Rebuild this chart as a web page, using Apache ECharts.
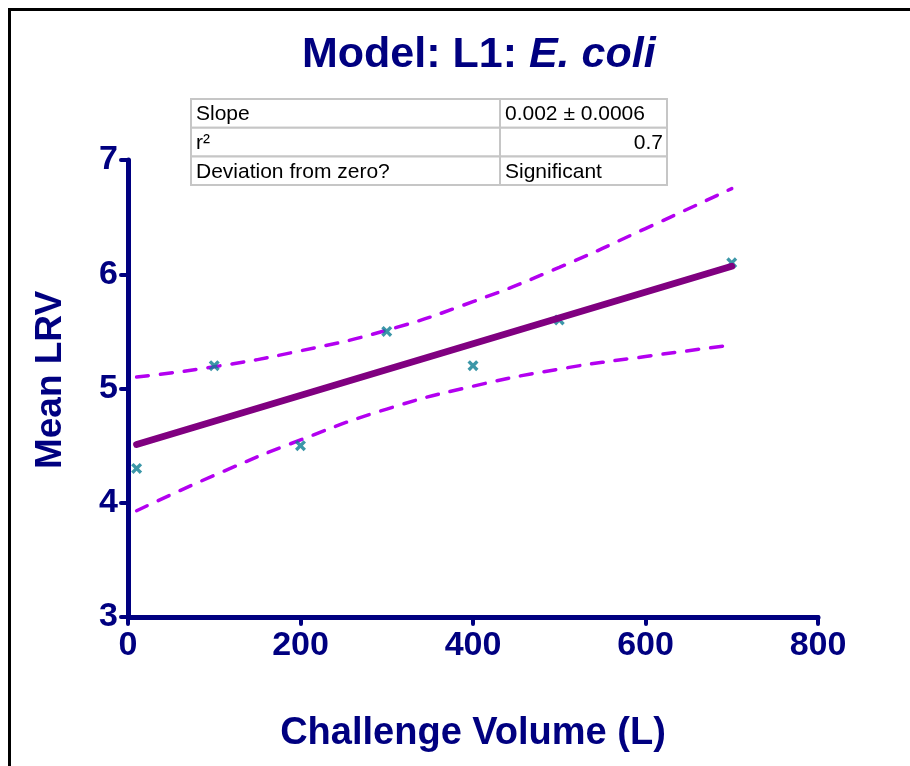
<!DOCTYPE html>
<html>
<head>
<meta charset="utf-8">
<script src="https://cdn.jsdelivr.net/npm/echarts@6/dist/echarts.min.js"></script>
<style>
  html, body { margin: 0; padding: 0; background: #fff; }
  #chart { width: 910px; height: 766px; }
</style>
</head>
<body>
<div id="chart"></div>
<script>
// Observations: challenge volume (L) vs mean log reduction value
const volume = [10, 100, 200, 300, 400, 500, 700];
const meanLRV = [4.3, 5.2, 4.5, 5.5, 5.2, 5.6, 6.1];

// Linear fit, endpoints
const fitX = [10, 700];
const fitY = [4.51, 6.07];

// 95% confidence band of the fit
const bandX = [10, 100, 200, 300, 400, 500, 600, 700];
const bandUpper = [5.10, 5.19, 5.33, 5.51, 5.76, 6.06, 6.40, 6.75];
const bandLower = [3.93, 4.24, 4.55, 4.82, 5.02, 5.17, 5.28, 5.38];

// Axis ticks
const xTicks = [0, 200, 400, 600, 800];
const yTicks = [3, 4, 5, 6, 7];

// Fit statistics table
const statLabels = ['Slope', 'r²', 'Deviation from zero?'];
const statValues = ['0.002 ± 0.0006', '0.7', 'Significant'];

const NAVY = '#000080';
const FONT = "'Liberation Sans', Arial, Helvetica, sans-serif";

const zip = (xs, ys) => xs.map((x, i) => [x, ys[i]]);

// Table cells as graphic elements
function buildTable() {
  const x0 = 191, y0 = 99, colW = [309, 167], rowH = 28.7;
  const children = [];
  statLabels.forEach((label, r) => {
    const y = y0 + r * rowH;
    const cells = [label, statValues[r]];
    let x = x0;
    cells.forEach((txt, c) => {
      children.push({
        type: 'rect',
        shape: { x: x, y: y, width: colW[c], height: rowH },
        style: { fill: '#fff', stroke: '#c6c6c6', lineWidth: 2 }
      });
      const numeric = /^[-\d.]+$/.test(txt);
      children.push({
        type: 'text',
        x: numeric ? x + colW[c] - 4 : x + 5,
        y: y + rowH / 2 + 1,
        style: {
          text: txt, fill: '#000', font: '21px ' + FONT,
          align: numeric ? 'right' : 'left', verticalAlign: 'middle'
        }
      });
      x += colW[c];
    });
  });
  return { type: 'group', children: children };
}

// X-shaped marker
const crossPath = 'path://M0,2.6 L2.6,0 L6,3.4 L9.4,0 L12,2.6 L8.6,6 L12,9.4 L9.4,12 L6,8.6 L2.6,12 L0,9.4 L3.4,6 Z';

const chart = echarts.init(document.getElementById('chart'), null, { renderer: 'canvas' });

const axisCommon = {
  type: 'value',
  axisLine: { show: true, lineStyle: { color: NAVY, width: 5, cap: 'round' } },
  axisTick: { show: true, length: 7, lineStyle: { color: NAVY, width: 4, cap: 'round' } },
  axisLabel: { color: NAVY, fontSize: 34, fontWeight: 'bold', fontFamily: FONT },
  splitLine: { show: false }
};

chart.setOption({
  animation: false,
  backgroundColor: '#fff',
  title: {
    text: '{a|Model: L1: }{b|E. coli}',
    left: 297,
    top: 29,
    textStyle: {
      rich: {
        a: { fontSize: 43, fontWeight: 'bold', color: NAVY, fontFamily: FONT },
        b: { fontSize: 43, fontWeight: 'bold', fontStyle: 'italic', color: NAVY, fontFamily: FONT }
      }
    }
  },
  grid: { left: 128, right: 92, top: 160, bottom: 149, containLabel: false },
  xAxis: Object.assign({}, axisCommon, {
    min: xTicks[0], max: xTicks[xTicks.length - 1], interval: xTicks[1] - xTicks[0],
    axisLabel: Object.assign({}, axisCommon.axisLabel, { margin: 12 })
  }),
  yAxis: Object.assign({}, axisCommon, {
    min: yTicks[0], max: yTicks[yTicks.length - 1], interval: yTicks[1] - yTicks[0],
    axisLabel: Object.assign({}, axisCommon.axisLabel, { margin: 10 })
  }),
  series: [
    {
      name: 'Upper 95% CI', type: 'line', data: zip(bandX, bandUpper), smooth: true,
      symbol: 'none', z: 2,
      lineStyle: { color: '#b300f0', width: 3.5, type: [12, 12], cap: 'round' }
    },
    {
      name: 'Lower 95% CI', type: 'line', data: zip(bandX, bandLower), smooth: true,
      symbol: 'none', z: 2,
      lineStyle: { color: '#b300f0', width: 3.5, type: [12, 12], cap: 'round' }
    },
    {
      name: 'Mean LRV', type: 'scatter', data: zip(volume, meanLRV),
      symbol: crossPath, symbolSize: 11, z: 3,
      itemStyle: { color: '#0b7d92' }
    },
    {
      name: 'Linear fit', type: 'line', data: zip(fitX, fitY),
      symbol: 'none', z: 4,
      lineStyle: { color: '#800080', width: 7, cap: 'round' }
    }
  ],
  graphic: [
    // page frame (top and left edges)
    { type: 'line', shape: { x1: 9.5, y1: 9.5, x2: 910, y2: 9.5 }, style: { stroke: '#000', lineWidth: 3 } },
    { type: 'line', shape: { x1: 9.5, y1: 8, x2: 9.5, y2: 766 }, style: { stroke: '#000', lineWidth: 3 } },
    buildTable(),
    {
      type: 'text', x: 473, y: 734,
      style: { text: 'Challenge Volume (L)', fill: NAVY, font: 'bold 38px ' + FONT, align: 'center', verticalAlign: 'middle' }
    },
    {
      type: 'text', x: 51, y: 380, rotation: Math.PI / 2,
      style: { text: 'Mean LRV', fill: NAVY, font: 'bold 37px ' + FONT, align: 'center', verticalAlign: 'middle' }
    }
  ]
});
</script>
</body>
</html>
